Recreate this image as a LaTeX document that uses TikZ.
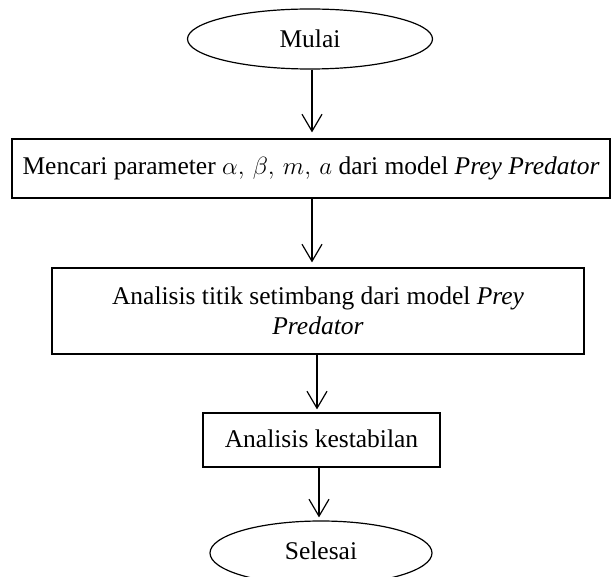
\documentclass[tikz,border=0pt]{standalone}
\usepackage{fontspec}
\setmainfont{Liberation Serif}
\usetikzlibrary{shapes.geometric,arrows.meta}
\begin{document}
\begin{tikzpicture}[x=1pt,y=-1pt,
  font=\fontsize{25.5}{30}\selectfont, line width=1.2pt,
  term/.style={draw, ellipse, inner sep=0pt},
  proc/.style={draw, rectangle, inner sep=0pt, align=center},
  arr/.style={-{Straight Barb[length=17pt,width=20pt]}}]
\useasboundingbox (0,0) rectangle (611,577);
\node[term, minimum width=245pt, minimum height=60pt] (e1) at (310,39) {Mulai};
\node[proc, minimum width=598pt, minimum height=59pt] (b1) at (311,168.5)
  {Mencari parameter $\alpha,\,\beta,\,m,\,a$ dari model \textit{Prey Predator}};
\node[proc, minimum width=532pt, minimum height=86pt] (b2) at (318,311)
  {Analisis titik setimbang dari model \textit{Prey}\\\textit{Predator}};
\node[proc, minimum width=237pt, minimum height=54pt] (b3) at (321.5,440) {\raisebox{3pt}{Analisis kestabilan}};
\node[term, minimum width=222pt, minimum height=64pt] (e2) at (321,553) {\raisebox{4pt}{Selesai}};
\draw[arr, shorten >=6pt] ([xshift=2pt]e1.south) -- ([xshift=2pt]e1.south |- b1.north);
\draw[arr, shorten >=5pt] ([xshift=1pt]b1.south) -- ([xshift=1pt]b1.south |- b2.north);
\draw[arr, shorten >=3pt] ([xshift=-1pt]b2.south) -- ([xshift=-1pt]b2.south |- b3.north);
\draw[arr, shorten >=3pt] ([xshift=-2.5pt]b3.south) -- ([xshift=-2.5pt]b3.south |- e2.north);
\end{tikzpicture}
\end{document}
